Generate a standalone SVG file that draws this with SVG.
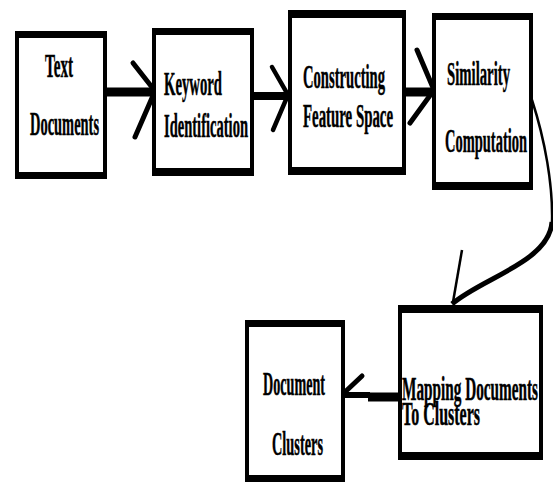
<svg xmlns="http://www.w3.org/2000/svg" width="553" height="483" viewBox="0 0 553 483">
<style>
.frame{fill:#000}
.inner{fill:#fff}
.lbl{font-family:"Liberation Serif","Times New Roman",serif;font-weight:bold;font-size:33px;fill:#000;stroke:#000;stroke-width:0.5}
.ln{stroke:#000;fill:none;stroke-linecap:butt}
.arm{stroke:#000;fill:none;stroke-linecap:round;stroke-linejoin:miter}
</style>
<rect width="553" height="483" fill="#fff"/>
<g id="connectors">
  <line class="ln" x1="107" y1="92" x2="152" y2="92" stroke-width="9"/>
  <polyline class="arm" points="133,63 155,91 135,137" stroke-width="5"/>
  <line class="ln" x1="254" y1="96" x2="288" y2="96" stroke-width="8"/>
  <polyline class="arm" points="272,67 288,95 273,130" stroke-width="4.5"/>
  <line class="ln" x1="406" y1="92" x2="432" y2="92" stroke-width="9"/>
  <polyline class="arm" points="417,50 434,90 410,123" stroke-width="5"/>
  <path class="ln" d="M532,100 C545,140 553,185 552,222" stroke-width="2.5"/>
  <path class="ln" d="M552,222 C549,262 482,278 452,304" stroke-width="5"/>
  <line class="ln" x1="462" y1="250" x2="453" y2="302" stroke-width="2.5"/>
  <line class="ln" x1="368" y1="397" x2="398" y2="397" stroke-width="9"/>
  <line class="ln" x1="343" y1="395" x2="370" y2="395" stroke-width="6"/>
  <line class="arm" x1="362" y1="376" x2="345" y2="392" stroke-width="5"/>
</g>
<g id="n1">
  <rect class="frame" x="15" y="31" width="92" height="148"/>
  <rect class="inner" x="19" y="38" width="84" height="134"/>
  <text class="lbl" x="45" y="77" textLength="28" lengthAdjust="spacingAndGlyphs">Text</text>
  <text class="lbl" x="30" y="135" textLength="69" lengthAdjust="spacingAndGlyphs">Documents</text>
</g>
<g id="n2">
  <rect class="frame" x="152" y="28" width="102" height="148"/>
  <rect class="inner" x="156" y="35" width="94" height="133"/>
  <text class="lbl" x="164" y="95" textLength="58" lengthAdjust="spacingAndGlyphs">Keyword</text>
  <text class="lbl" x="164" y="137" textLength="84" lengthAdjust="spacingAndGlyphs">Identification</text>
</g>
<g id="n3">
  <rect class="frame" x="288" y="10" width="118" height="165"/>
  <rect class="inner" x="292" y="18" width="110" height="149"/>
  <text class="lbl" x="303" y="88" textLength="82" lengthAdjust="spacingAndGlyphs">Constructing</text>
  <text class="lbl" x="303" y="127" textLength="90" lengthAdjust="spacingAndGlyphs">Feature Space</text>
</g>
<g id="n4">
  <rect class="frame" x="432" y="13" width="101" height="177"/>
  <rect class="inner" x="436" y="20" width="93" height="162"/>
  <text class="lbl" x="447" y="85" textLength="63" lengthAdjust="spacingAndGlyphs">Similarity</text>
  <text class="lbl" x="445" y="152" textLength="82" lengthAdjust="spacingAndGlyphs">Computation</text>
</g>
<g id="n5">
  <rect class="frame" x="398" y="305" width="145" height="155"/>
  <rect class="inner" x="402" y="313" width="137" height="139"/>
  <text class="lbl" x="402" y="400" textLength="136" lengthAdjust="spacingAndGlyphs">Mapping Documents</text>
  <text class="lbl" x="402" y="425" textLength="78" lengthAdjust="spacingAndGlyphs">To Clusters</text>
</g>
<g id="n6">
  <rect class="frame" x="245" y="320" width="100" height="162"/>
  <rect class="inner" x="249" y="327" width="92" height="148"/>
  <text class="lbl" x="263" y="395" textLength="62" lengthAdjust="spacingAndGlyphs">Document</text>
  <text class="lbl" x="272" y="455" textLength="51" lengthAdjust="spacingAndGlyphs">Clusters</text>
</g>
</svg>
